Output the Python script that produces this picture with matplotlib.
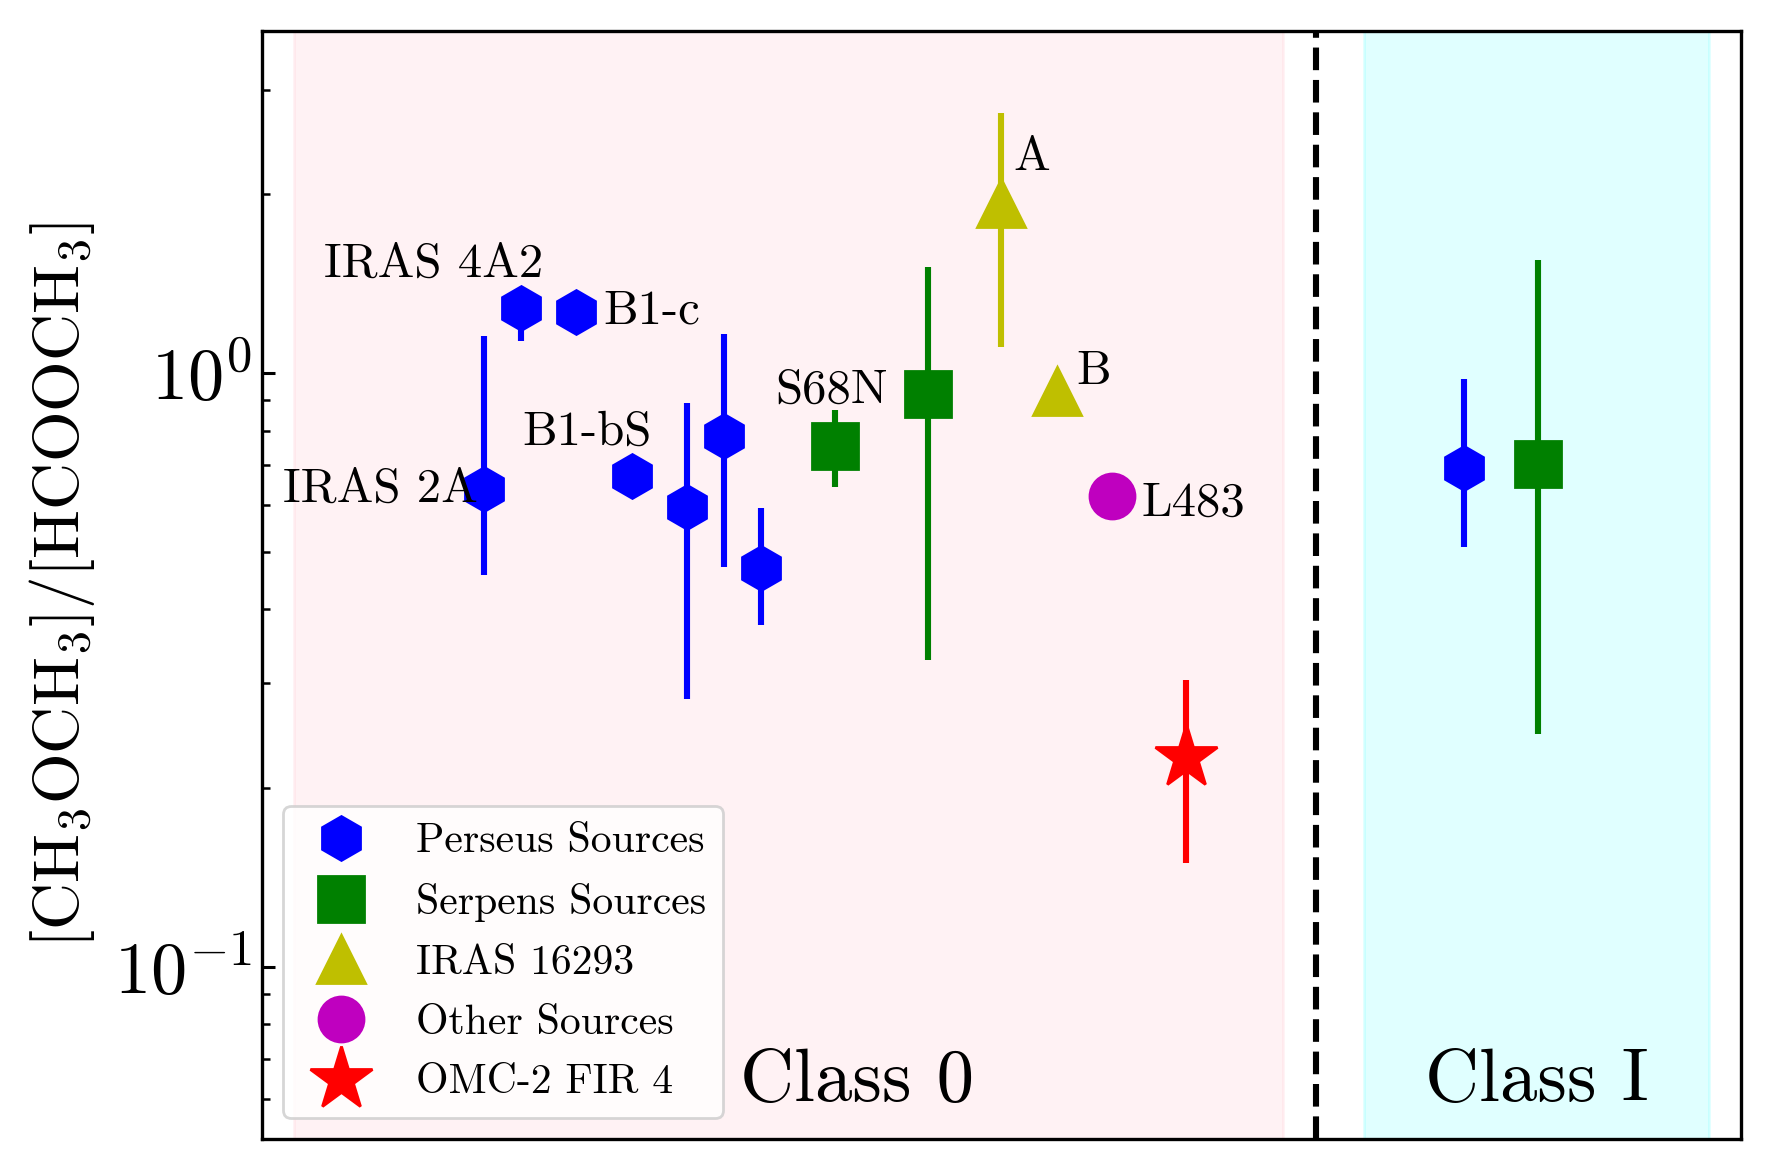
import numpy as np
import matplotlib
matplotlib.use("Agg")
import matplotlib.pyplot as plt
import matplotlib.transforms as mtransforms
from matplotlib.ticker import NullFormatter

plt.rcParams['font.family'] = 'serif'
plt.rcParams['font.serif'] = ['cmr10']
plt.rcParams['mathtext.fontset'] = 'cm'
plt.rcParams['axes.formatter.use_mathtext'] = True
plt.rcParams['axes.unicode_minus'] = False

# Class 0 - Perseus
per_x = [12, 14, 17, 20, 23, 25, 27]
per_y = [0.637, 1.288, 1.265, 0.670, 0.595, 0.784, 0.469]
per_lo = [0.457, 1.133, 1.265, 0.670, 0.283, 0.472, 0.377]
per_hi = [1.154, 1.380, 1.265, 0.670, 0.889, 1.163, 0.592]
per_names = ["IRAS 2A", "IRAS 4A2", "B1-c", "B1-bS", "", "", ""]

# Class 0 - Serpens
ser_x = [31, 36]
ser_y = [0.754, 0.923]
ser_lo = [0.642, 0.329]
ser_hi = [0.866, 1.508]
ser_names = ["", "S68N"]

# IRAS 16293
iras_x = [40, 43]
iras_y = [1.935, 0.931]
iras_lo = [1.107, 0.931]
iras_hi = [2.740, 0.931]
iras_names = ["A", "B"]

# other sources
oth_x = [46]
oth_y = [0.620]
oth_names = ["L483"]

# OMC-2 FIR 4
omc_x = [50]
omc_y = [0.2257]
omc_lo = [0.1497]
omc_hi = [0.304]

# Class I
c1_per_x = [65]
c1_per_y = [0.692]
c1_per_lo = [0.509]
c1_per_hi = [0.977]
c1_ser_x = [69]
c1_ser_y = [0.703]
c1_ser_lo = [0.247]
c1_ser_hi = [1.55]

fig = plt.figure(figsize=(8.85, 5.85), dpi=200)
ax = fig.add_axes([0.148, 0.0265, 0.8356, 0.947])

ax.axvspan(1.75, 55.25, color='pink', alpha=0.2, zorder=0)
ax.axvspan(59.6, 78.25, color='cyan', alpha=0.12, zorder=0)
ax.axvline(57, color='k', ls='--', lw=2.2, zorder=1)


def yerr(y, lo, hi):
    y = np.array(y)
    return [y - np.array(lo), np.array(hi) - y]


ew = 2.2
ax.errorbar(per_x, per_y, yerr=yerr(per_y, per_lo, per_hi), fmt='none', ecolor='b', elinewidth=ew, zorder=2)
ax.errorbar(c1_per_x, c1_per_y, yerr=yerr(c1_per_y, c1_per_lo, c1_per_hi), fmt='none', ecolor='b', elinewidth=ew, zorder=2)
ax.errorbar(ser_x, ser_y, yerr=yerr(ser_y, ser_lo, ser_hi), fmt='none', ecolor='g', elinewidth=ew, zorder=2)
ax.errorbar(c1_ser_x, c1_ser_y, yerr=yerr(c1_ser_y, c1_ser_lo, c1_ser_hi), fmt='none', ecolor='g', elinewidth=ew, zorder=2)
ax.errorbar(iras_x, iras_y, yerr=yerr(iras_y, iras_lo, iras_hi), fmt='none', ecolor='y', elinewidth=ew, zorder=2)
ax.errorbar(omc_x, omc_y, yerr=yerr(omc_y, omc_lo, omc_hi), fmt='none', ecolor='r', elinewidth=ew, zorder=2)

ax.plot(per_x, per_y, 'h', color='b', ms=15.8, ls='none', label='Perseus Sources', zorder=3)
ax.plot(c1_per_x, c1_per_y, 'h', color='b', ms=15.8, ls='none', zorder=3)
ax.plot(ser_x, ser_y, 's', color='g', ms=16.5, ls='none', label='Serpens Sources', zorder=3)
ax.plot(c1_ser_x, c1_ser_y, 's', color='g', ms=16.5, ls='none', zorder=3)
ax.plot(iras_x, iras_y, '^', color='y', ms=17.3, ls='none', label='IRAS 16293', zorder=3)
ax.plot(oth_x, oth_y, 'o', color='m', ms=16.2, ls='none', label='Other Sources', zorder=3)
ax.plot(omc_x, omc_y, '*', color='r', ms=23.8, ls='none', label='OMC-2 FIR 4', zorder=3)

# source labels: offset from the point in pt, and alignment
fs_lab = 17.6
offsets = {
    "IRAS 2A": (-2.0, -4.6, 'right'),
    "IRAS 4A2": (8.1, 11.3, 'right'),
    "B1-c": (9.6, -4.0, 'left'),
    "B1-bS": (7.1, 11.3, 'right'),
    "S68N": (-14.4, -3.3, 'right'),
    "A": (4.3, 11.8, 'left'),
    "B": (7.0, 2.7, 'left'),
    "L483": (10.3, -7.0, 'left'),
}
for xs, ys, names in [(per_x, per_y, per_names), (ser_x, ser_y, ser_names),
                      (iras_x, iras_y, iras_names), (oth_x, oth_y, oth_names)]:
    for xv, yv, nm in zip(xs, ys, names):
        if nm:
            dx, dy, ha = offsets[nm]
            ax.annotate(nm, (xv, yv), xytext=(dx, dy), textcoords='offset points',
                        ha=ha, va='baseline', fontsize=fs_lab, zorder=4)

trans = mtransforms.blended_transform_factory(ax.transData, ax.transAxes)
ax.text(32.2, 0.034, 'Class 0', transform=trans, ha='center', va='baseline', fontsize=27)
ax.text(68.95, 0.034, 'Class I', transform=trans, ha='center', va='baseline', fontsize=27)

ax.set_yscale('log')
ax.set_ylim(0.0513, 3.765)
ax.set_xlim(0, 80)
ax.set_xticks([])
ax.yaxis.set_minor_formatter(NullFormatter())
ax.tick_params(axis='y', which='major', direction='in', length=4.7, width=1.1, labelsize=26)
ax.tick_params(axis='y', which='minor', direction='in', length=2.9, width=0.9)
for sp in ax.spines.values():
    sp.set_linewidth(1.2)

ax.set_ylabel(r'$[\mathrm{CH_3OCH_3}]/[\mathrm{HCOOCH_3}]$', fontsize=23.5, labelpad=6)
ax.legend(loc='lower left', fontsize=15, labelspacing=0.54)

fig.savefig('out.png', dpi=200)
